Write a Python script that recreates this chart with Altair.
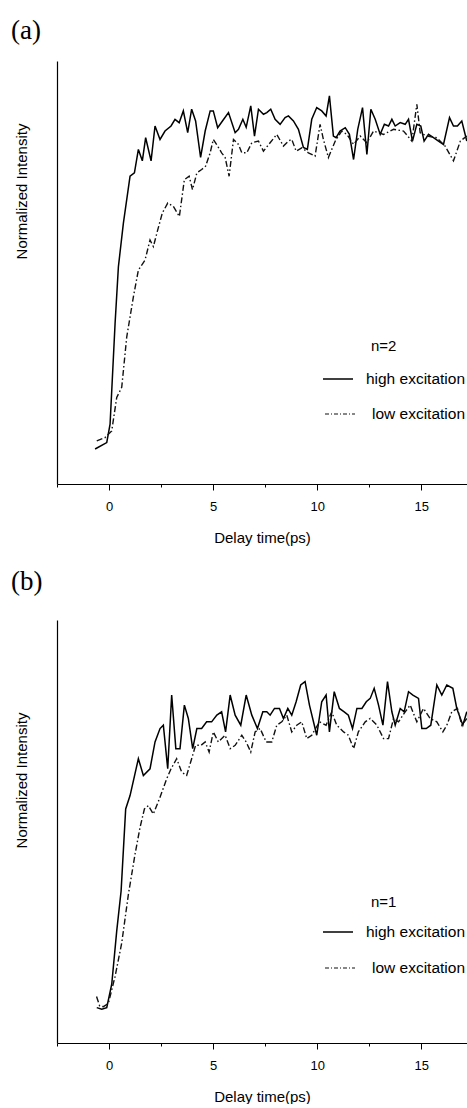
import altair as alt
import pandas as pd

# ---------------- data ----------------
# Panel (a), n=2
a_high_t = [-0.67, -0.11, 0.05, 0.29, 0.45, 0.69, 1.01, 1.22, 1.41, 1.60, 1.76, 2.02, 2.21, 2.45, 2.69, 2.98,
            3.17, 3.37, 3.57, 3.78, 3.97, 4.16, 4.40, 4.62, 4.86, 5.01, 5.22, 5.45, 5.74, 6.06, 6.22, 6.43,
            6.59, 6.81, 6.99, 7.18, 7.42, 7.58, 7.77, 7.98, 8.22, 8.46, 8.62, 8.86, 9.10, 9.34, 9.53, 9.74,
            9.98, 10.22, 10.43, 10.59, 10.78, 10.91, 11.10, 11.35, 11.55, 11.75, 11.95, 12.18, 12.39, 12.58,
            12.79, 13.03, 13.23, 13.43, 13.59, 13.75, 13.99, 14.23, 14.39, 14.58, 14.79, 14.98, 15.14, 15.35,
            15.59, 15.83, 16.07, 16.36, 16.55, 16.74, 16.95, 17.19]
a_high_v = [0.006, 0.025, 0.08, 0.38, 0.55, 0.68, 0.82, 0.83, 0.90, 0.866, 0.935, 0.866, 0.97, 0.93, 0.955, 0.97,
            0.99, 0.98, 1.015, 0.95, 1.02, 0.985, 0.876, 0.955, 1.015, 1.015, 0.965, 0.985, 1.01, 0.95, 0.96, 0.99,
            0.966, 1.03, 0.94, 1.02, 1.005, 1.01, 1.02, 0.99, 0.975, 0.995, 1.0, 0.985, 0.96, 0.906, 0.90, 0.99,
            1.025, 1.015, 1.0, 1.06, 0.94, 0.935, 0.955, 0.965, 0.945, 0.87, 0.96, 1.025, 0.885, 1.02,
            0.99, 0.945, 0.975, 0.97, 0.99, 0.97, 0.98, 0.975, 0.99, 0.925, 0.975, 0.97, 0.925, 0.945,
            0.935, 0.925, 0.915, 0.995, 0.97, 0.97, 0.985, 0.925]
a_low_t = [-0.59, -0.19, 0.13, 0.37, 0.61, 0.85, 1.17, 1.41, 1.73, 1.97, 2.13, 2.34, 2.56, 2.82, 3.09, 3.38,
           3.62, 3.85, 4.01, 4.22, 4.45, 4.64, 4.86, 5.01, 5.22, 5.41, 5.58, 5.77, 5.98, 6.22, 6.38, 6.62,
           6.86, 7.18, 7.42, 7.74, 8.06, 8.38, 8.62, 8.78, 8.99, 9.26, 9.58, 9.90, 10.14, 10.30, 10.54, 10.87,
           11.18, 11.43, 11.75, 12.07, 12.39, 12.71, 13.19, 13.67, 14.15, 14.55, 14.79, 14.95, 15.27, 15.75,
           16.15, 16.55, 16.88, 17.19]
a_low_v = [0.03, 0.04, 0.06, 0.16, 0.19, 0.34, 0.46, 0.54, 0.57, 0.63, 0.61, 0.66, 0.71, 0.74, 0.73, 0.70,
           0.81, 0.82, 0.78, 0.83, 0.84, 0.85, 0.89, 0.93, 0.91, 0.89, 0.876, 0.82, 0.93, 0.915, 0.89, 0.89,
           0.92, 0.925, 0.895, 0.92, 0.945, 0.91, 0.925, 0.93, 0.895, 0.905, 0.89, 0.88, 0.975, 0.93, 0.876, 0.925,
           0.955, 0.945, 0.915, 0.94, 0.92, 0.955, 0.945, 0.96, 0.955, 0.925, 1.035, 0.95, 0.94, 0.935,
           0.91, 0.866, 0.925, 0.94]

# Panel (b), n=1
b_high_t = [-0.59, -0.35, -0.11, 0.13, 0.37, 0.58, 0.80, 1.01, 1.41, 1.65, 1.97, 2.21, 2.45, 2.61, 2.82, 3.01,
            3.21, 3.41, 3.62, 3.81, 4.02, 4.22, 4.45, 4.69, 4.93, 5.18, 5.41, 5.60, 5.82, 6.06, 6.33, 6.59,
            6.86, 7.13, 7.39, 7.58, 7.74, 7.95, 8.19, 8.38, 8.59, 8.78, 8.99, 9.21, 9.42, 9.63, 9.98, 10.22,
            10.43, 10.59, 10.82, 11.07, 11.30, 11.50, 11.70, 11.91, 12.15, 12.36, 12.55, 12.74, 12.95, 13.16,
            13.38, 13.59, 13.75, 13.99, 14.18, 14.39, 14.60, 14.87, 15.03, 15.24, 15.46, 15.75, 15.99, 16.23,
            16.52, 16.71, 17.00, 17.19]
b_high_v = [0.007, 0.002, 0.007, 0.077, 0.236, 0.355, 0.60, 0.64, 0.75, 0.70, 0.72, 0.80, 0.84, 0.85, 0.72, 0.94,
            0.78, 0.78, 0.91, 0.87, 0.78, 0.84, 0.84, 0.86, 0.86, 0.88, 0.89, 0.83, 0.94, 0.88, 0.85, 0.94,
            0.88, 0.84, 0.89, 0.89, 0.88, 0.90, 0.90, 0.87, 0.90, 0.88, 0.92, 0.97, 0.98, 0.91, 0.82, 0.92,
            0.94, 0.83, 0.95, 0.90, 0.89, 0.88, 0.84, 0.90, 0.90, 0.92, 0.93, 0.96, 0.91, 0.85,
            0.98, 0.89, 0.85, 0.90, 0.89, 0.95, 0.94, 0.93, 0.84, 0.84, 0.85, 0.97, 0.94, 0.97,
            0.96, 0.90, 0.85, 0.89]
b_low_t = [-0.60, -0.45, -0.27, -0.03, 0.29, 0.61, 0.93, 1.25, 1.49, 1.70, 1.89, 2.13, 2.45, 2.77, 2.98, 3.25,
           3.49, 3.73, 3.97, 4.16, 4.42, 4.62, 4.81, 5.01, 5.25, 5.58, 5.82, 6.06, 6.38, 6.59, 6.81, 7.02,
           7.26, 7.55, 7.82, 8.06, 8.30, 8.54, 8.78, 9.02, 9.26, 9.50, 9.74, 10.11, 10.43, 10.70, 10.94, 11.27,
           11.50, 11.75, 11.98, 12.31, 12.55, 12.87, 13.19, 13.43, 13.67, 13.91, 14.23, 14.47, 14.79, 15.11,
           15.43, 15.75, 16.04, 16.23, 16.47, 16.74, 16.95, 17.19]
b_low_v = [0.04, 0.012, 0.01, 0.02, 0.10, 0.20, 0.345, 0.465, 0.545, 0.60, 0.61, 0.585, 0.635, 0.69, 0.72, 0.75,
           0.71, 0.70, 0.75, 0.79, 0.79, 0.80, 0.77, 0.83, 0.80, 0.82, 0.78, 0.79, 0.82, 0.80, 0.77, 0.83,
           0.84, 0.80, 0.80, 0.85, 0.86, 0.88, 0.83, 0.85, 0.86, 0.81, 0.82, 0.86, 0.85, 0.89, 0.85, 0.83,
           0.82, 0.78, 0.83, 0.86, 0.87, 0.85, 0.81, 0.81, 0.87, 0.86, 0.89, 0.91, 0.86, 0.90,
           0.87, 0.86, 0.83, 0.85, 0.89, 0.90, 0.85, 0.87]

panel_labels = ["(a)", "(b)"]
n_labels = ["n=2", "n=1"]
series_labels = ["high excitation", "low excitation"]
x_tick_values = [-2.5, 0, 2.5, 5, 7.5, 10, 12.5, 15]
x_title = "Delay time(ps)"
y_title = "Normalized Intensity"

# ---------------- styling ----------------
SANS = "Liberation Sans, Arial, sans-serif"
SERIF = "Liberation Serif, Times New Roman, serif"
W, H = 410, 423
DASHDOT = [6, 2.5, 1.5, 2.5]


def panel(ht, hv, lt, lv, plabel, nlabel, label_y, title_y, leg_y):
    hi = pd.DataFrame({"t": ht, "v": hv})
    lo = pd.DataFrame({"t": lt, "v": lv})
    xenc = alt.X(
        "t:Q",
        scale=alt.Scale(domain=[-2.5, 17.2], nice=False, zero=False),
        axis=alt.Axis(
            title=x_title,
            values=x_tick_values,
            labelExpr="datum.value % 5 === 0 ? datum.label : ''",
            tickSize={"condition": {"test": "datum.value % 5 === 0", "value": 6}, "value": 3},
            tickColor="black",
            tickWidth=1,
            domainColor="black",
            domainWidth=1.2,
            grid=False,
            labelFont=SANS,
            labelFontSize=13,
            labelColor="black",
            labelPadding=10,
            titleFont=SANS,
            titleFontSize=15,
            titleFontWeight="normal",
            titleColor="black",
            titlePadding=17,
        ),
    )
    yenc = alt.Y(
        "v:Q",
        scale=alt.Scale(domain=[-0.0985, 1.164], nice=False, zero=False),
        axis=alt.Axis(
            title=y_title,
            ticks=False,
            labels=False,
            grid=False,
            domainColor="black",
            domainWidth=1.2,
            titleFont=SANS,
            titleFontSize=15,
            titleFontWeight="normal",
            titleColor="black",
            titlePadding=28,
            titleY=title_y,
        ),
    )
    line_hi = alt.Chart(hi).mark_line(color="black", strokeWidth=1.5, clip=True).encode(x=xenc, y=yenc)
    line_lo = alt.Chart(lo).mark_line(color="#111111", strokeWidth=1.4, strokeDash=DASHDOT, clip=True).encode(
        x=xenc, y=yenc
    )
    title_txt = alt.Chart(pd.DataFrame({"lab": [plabel]})).mark_text(
        align="left", baseline="top", font=SERIF, fontSize=27, color="black"
    ).encode(x=alt.value(-46), y=alt.value(label_y), text="lab:N")
    n_txt = alt.Chart(pd.DataFrame({"lab": [nlabel]})).mark_text(
        align="left", baseline="middle", font=SANS, fontSize=15, color="black"
    ).encode(x=alt.value(314), y=alt.value(leg_y[0]), text="lab:N")
    hi_rule = alt.Chart(pd.DataFrame({"lab": [series_labels[0]]})).mark_rule(
        color="black", strokeWidth=1.5
    ).encode(x=alt.value(266), x2=alt.value(296), y=alt.value(leg_y[1]))
    hi_txt = alt.Chart(pd.DataFrame({"lab": [series_labels[0]]})).mark_text(
        align="right", baseline="middle", font=SANS, fontSize=15.5, color="black"
    ).encode(x=alt.value(408), y=alt.value(leg_y[1]), text="lab:N")
    lo_rule = alt.Chart(pd.DataFrame({"lab": [series_labels[1]]})).mark_rule(
        color="#111111", strokeWidth=1.2, strokeDash=[4, 2, 1, 2]
    ).encode(x=alt.value(268), x2=alt.value(298), y=alt.value(leg_y[2]))
    lo_txt = alt.Chart(pd.DataFrame({"lab": [series_labels[1]]})).mark_text(
        align="right", baseline="middle", font=SANS, fontSize=15.5, color="black"
    ).encode(x=alt.value(408), y=alt.value(leg_y[2]), text="lab:N")
    return alt.layer(line_hi, line_lo, title_txt, n_txt, hi_rule, hi_txt, lo_rule, lo_txt).properties(
        width=W, height=H
    )


pa = panel(a_high_t, a_high_v, a_low_t, a_low_v, panel_labels[0], n_labels[0], -43, 130, [285, 318, 353])
pb = panel(b_high_t, b_high_v, b_low_t, b_low_v, panel_labels[1], n_labels[1], -51, 160, [282, 312, 348])

chart = (
    alt.vconcat(pa, pb, spacing=23)
    .properties(padding={"left": 11, "top": 17, "right": 0, "bottom": 0}, background="white")
    .configure_view(stroke=None)
)

chart.save("out.html", embed_options={"renderer": "svg", "actions": False})
